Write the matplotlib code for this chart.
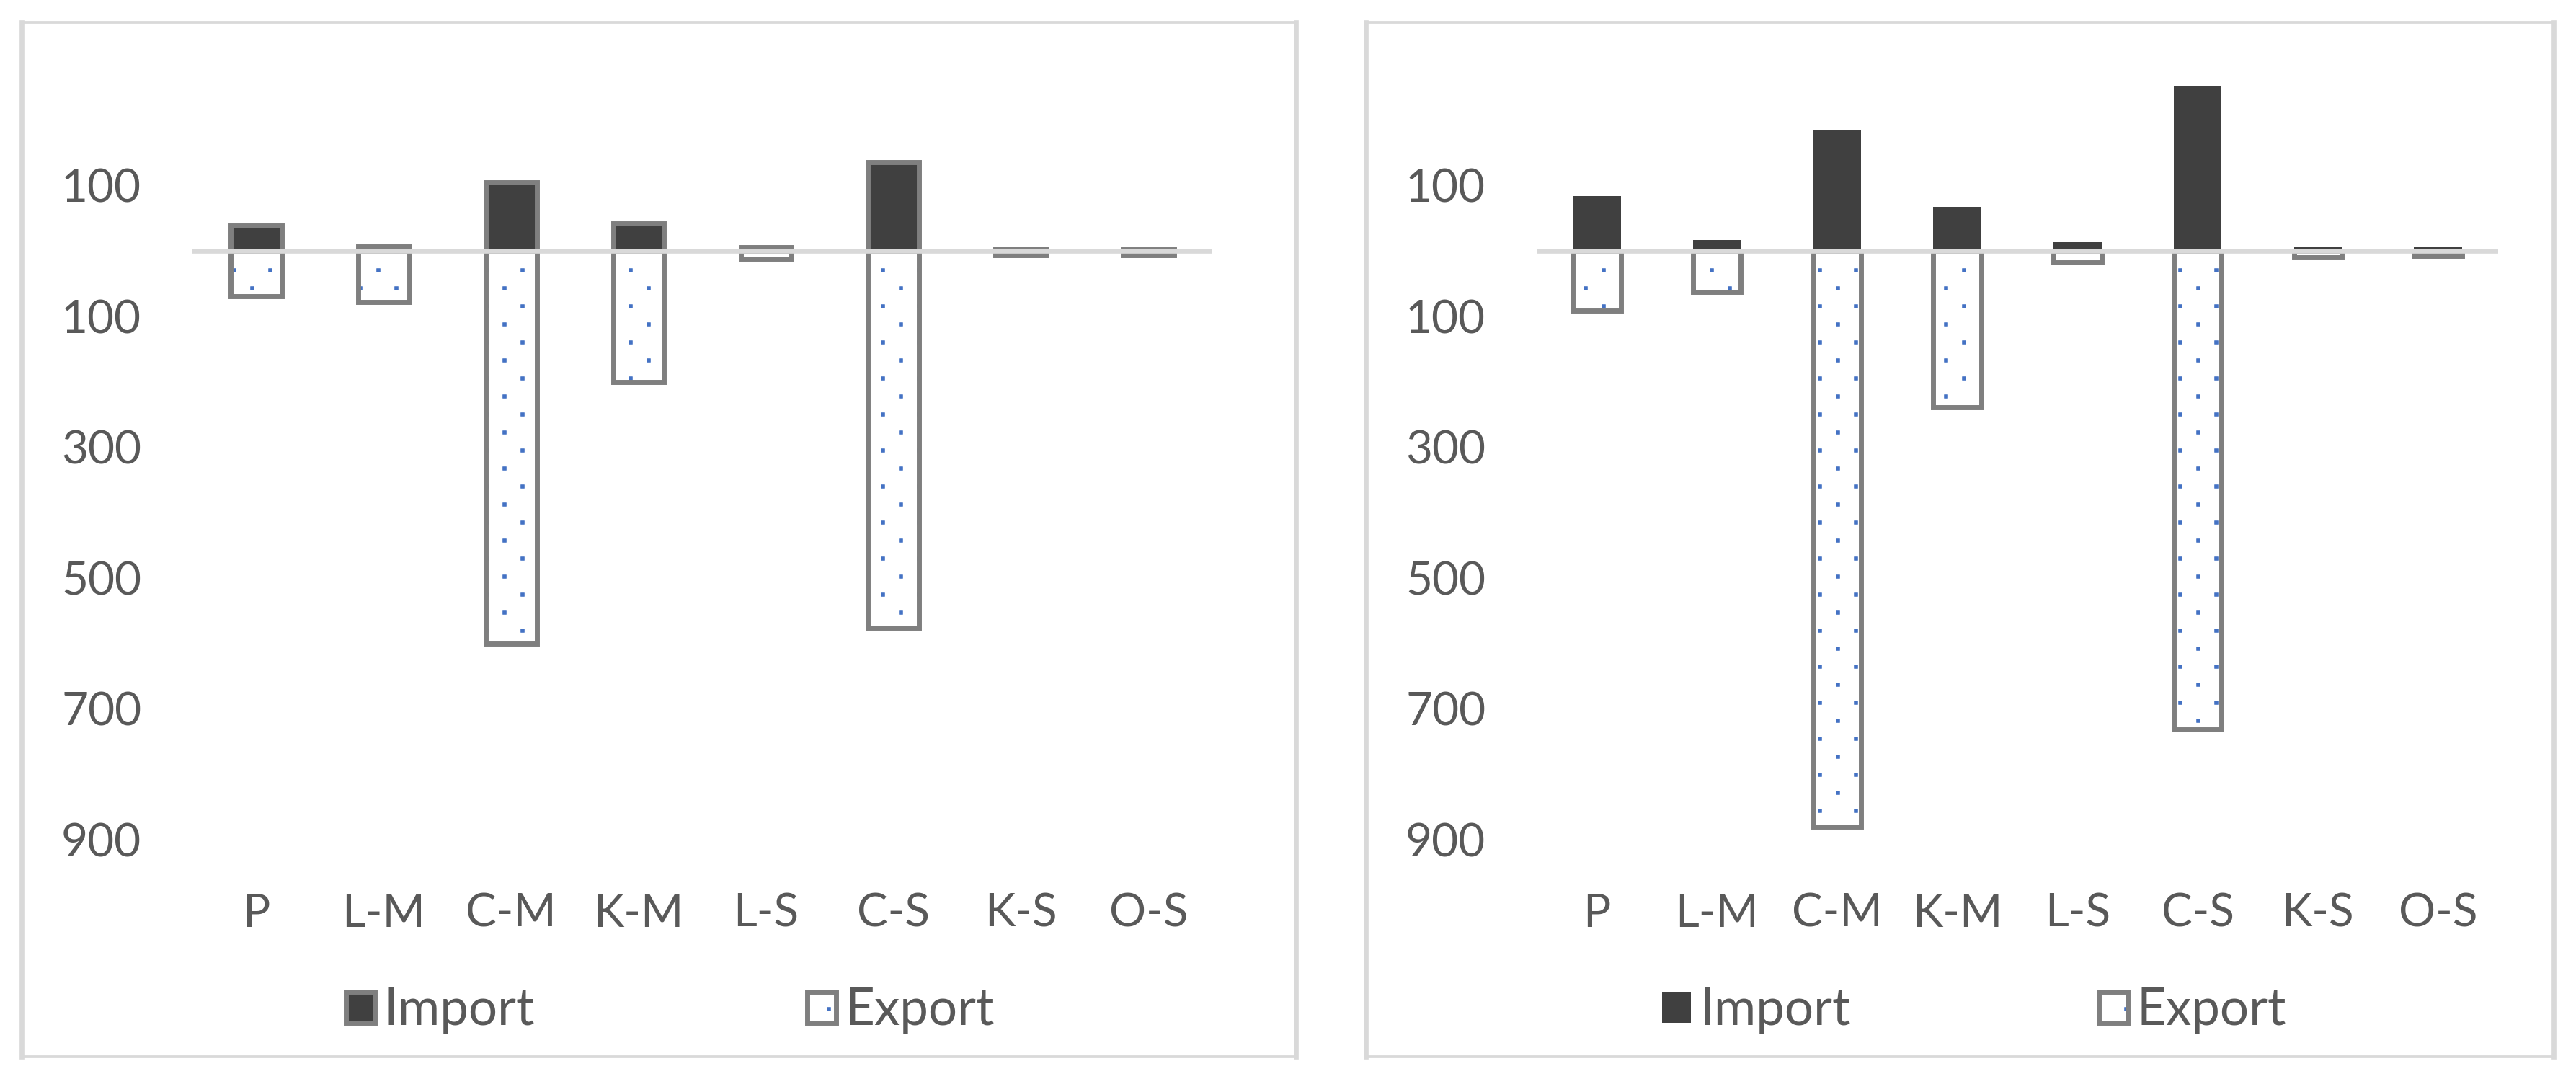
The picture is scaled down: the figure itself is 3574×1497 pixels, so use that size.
import numpy as np
import matplotlib
matplotlib.use("Agg")
import matplotlib.pyplot as plt
import matplotlib.hatch as mhatch
from matplotlib.path import Path
from matplotlib.lines import Line2D
from matplotlib.ticker import FuncFormatter, FixedLocator

# ---------------- data ----------------
categories = ["P", "L-M", "C-M", "K-M", "L-S", "C-S", "K-S", "O-S"]
import_left = [39, 7, 105, 42, 6, 136, 3, 2]
export_left = [-69, -78, -600, -200, -12, -576, -7, -7]
import_right = [84, 16, 184, 67, 13, 252, 7, 5]
export_right = [-92, -63, -880, -239, -18, -732, -10, -8]
y_ticks = [100, -100, -300, -500, -700, -900]
series_labels = ["Import", "Export"]

# ---------------- style ----------------
W, H = 3574, 1497
DPI = 100
DARK = "#404040"
GRAY = "#7f7f7f"
BLUE = "#4472c4"
ZERO = "#d9d9d9"
BORDER = "#d9d9d9"
TEXT = "#595959"
FS = 46
LFS = 51

plt.rcParams["font.family"] = ["Lato", "DejaVu Sans"]
plt.rcParams["hatch.linewidth"] = 0.8


# Excel-like dotted fill: staggered square dots
class DotLattice(mhatch.HatchPatternBase):
    rows = 4
    half = 0.022

    def __init__(self, hatch, density):
        self.centers = []
        if hatch.count('.'):
            for r in range(self.rows + 1):
                y = r / self.rows
                xs = (0.0, 0.5, 1.0) if r % 2 == 0 else (0.25, 0.75)
                self.centers += [(x, y) for x in xs]
        self.num_vertices = 5 * len(self.centers)

    def set_vertices_and_codes(self, vertices, codes):
        h = self.half
        sq = np.array([[-h, -h], [h, -h], [h, h], [-h, h], [-h, -h]])
        for i, c in enumerate(self.centers):
            vertices[5 * i:5 * i + 5] = sq + np.asarray(c)
            codes[5 * i] = Path.MOVETO
            codes[5 * i + 1:5 * i + 4] = Path.LINETO
            codes[5 * i + 4] = Path.CLOSEPOLY


mhatch._hatch_types[mhatch._hatch_types.index(mhatch.SmallFilledCircles)] = DotLattice

fig = plt.figure(figsize=(W / DPI, H / DPI), dpi=DPI, facecolor="white")

# axes placement (pixels)
y_top_px, y_bot_px = 75.75, 1219.2
ylim = (-960, 300)
panels = [
    dict(x0=267, x1=1682, imp=import_left, exp=export_left, edge=True,
         leg=(480, 1120), border=(29.5, 1798)),
    dict(x0=2132, x1=3466, imp=import_right, exp=export_right, edge=False,
         leg=(2306, 2912), border=(1894.5, 3542.5)),
]

hl = 40 / (LFS * DPI / 72)

for p in panels:
    ax = fig.add_axes([p["x0"] / W, 1 - y_bot_px / H,
                       (p["x1"] - p["x0"]) / W, (y_bot_px - y_top_px) / H])
    ax.set_facecolor("none")
    x = np.arange(len(categories))
    if p["edge"]:
        imp = ax.bar(x, p["imp"], width=0.4, color=DARK, edgecolor=GRAY,
                     linewidth=5, zorder=2, label=series_labels[0])
    else:
        imp = ax.bar(x, p["imp"], width=0.4, color=DARK, linewidth=0,
                     zorder=2, label=series_labels[0])
    exp_h = ax.bar(x, p["exp"], width=0.4, facecolor="white", edgecolor=BLUE,
                   linewidth=0, hatch=".", zorder=2)
    exp_o = ax.bar(x, p["exp"], width=0.4, facecolor="none", edgecolor=GRAY,
                   linewidth=5, zorder=2.2)
    ax.axhline(0, color=ZERO, lw=4.8, zorder=3)

    ax.set_xlim(-0.5, len(categories) - 0.5)
    ax.set_ylim(*ylim)
    ax.set_xticks(x)
    ax.set_xticklabels(categories)
    ax.yaxis.set_major_locator(FixedLocator(y_ticks))
    ax.yaxis.set_major_formatter(FuncFormatter(lambda v, pos: f"{abs(v):.0f}"))
    ax.tick_params(axis="both", length=0, labelsize=FS, labelcolor=TEXT)
    ax.tick_params(axis="y", pad=51)
    ax.tick_params(axis="x", pad=14)
    for s in ax.spines.values():
        s.set_visible(False)

    # legends (one per entry, placed like the Excel legend)
    handles = [imp, (exp_h, exp_o)]
    for h, lab, xpx in zip(handles, series_labels, p["leg"]):
        fig.legend([h], [lab], loc="center left",
                   bbox_to_anchor=(xpx / W, 1 - 1402 / H),
                   frameon=False, borderpad=0, borderaxespad=0,
                   handlelength=hl, handleheight=hl, handletextpad=0.18,
                   fontsize=LFS, labelcolor=TEXT)

    # panel border
    bx0, bx1 = p["border"]
    by0, by1 = 31.2, 1466
    for xs, ys, lw in [((bx0, bx1), (by0, by0), 2.7),
                       ((bx0, bx1), (by1, by1), 2.7),
                       ((bx0, bx0), (by0, by1), 4.8),
                       ((bx1, bx1), (by0, by1), 4.8)]:
        fig.add_artist(Line2D([v / W for v in xs], [1 - v / H for v in ys],
                              transform=fig.transFigure, color=BORDER, lw=lw,
                              solid_capstyle="projecting"))

fig.savefig("out.png", dpi=DPI, facecolor="white")
